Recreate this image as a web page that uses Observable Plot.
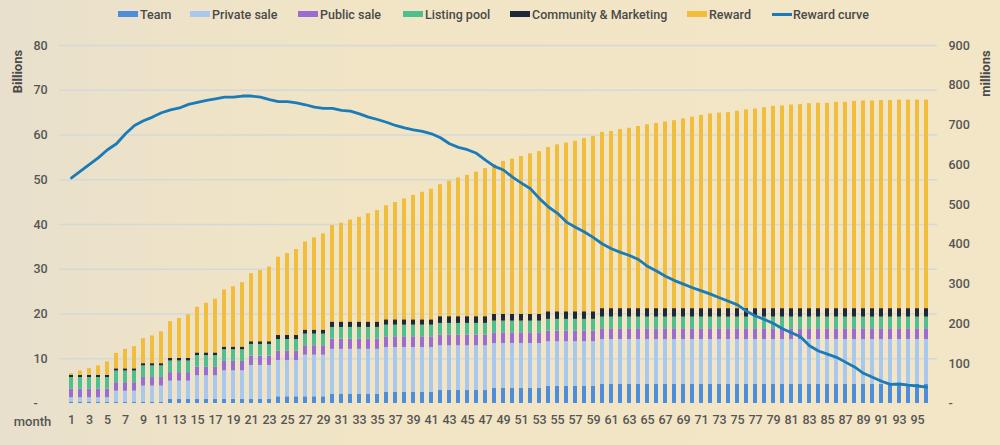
<!DOCTYPE html>
<html><head><meta charset="utf-8">
<script src="https://cdn.jsdelivr.net/npm/d3@7"></script>
<script src="https://cdn.jsdelivr.net/npm/@observablehq/plot@0.6"></script>
<style>
html,body{margin:0;padding:0;width:1000px;height:445px;overflow:hidden;font-family:Roboto,sans-serif;
background:linear-gradient(90deg,#e8e0cd 0%,#eee3c8 18%,#f1e5c5 40%,#f2e6c6 100%);}
#legend{position:relative;height:28px;width:1000px;}
.item{position:absolute;top:7px;height:14px;display:flex;align-items:center;font-size:12.5px;font-weight:500;color:#4a4a4a;white-space:nowrap;}
.sw{width:20px;height:6px;margin-right:2px;}
.ln{width:20px;height:3px;margin-right:1px;}
#chart svg{display:block;}
</style></head><body>
<div id="legend"></div><div id="chart"></div>
<script>
const seriesNames = ["Team","Private sale","Public sale","Listing pool","Community & Marketing","Reward"];
const seriesColors = ["#4c8ddc","#a9c8ee","#9a6dd3","#4fbf8e","#1f2838","#f2bd3a"];
const curveName = "Reward curve";
const curveColor = "#1b7bb8";

const monthTicks = [1,3,5,7,9,11,13,15,17,19,21,23,25,27,29,31,33,35,37,39,41,43,45,47,49,51,53,55,57,59,61,63,65,67,69,71,73,75,77,79,81,83,85,87,89,91,93,95];
const leftTicks = [0,10,20,30,40,50,60,70,80];
const rightTicks = [0,100,200,300,400,500,600,700,800,900];

const team = [
0.3,0.3,0.3,0.3,0.3,0.3,0.3,0.3,0.3,0.3,0.3,
0.9,0.9,0.9,0.9,0.9,0.9,0.9,0.9,0.9,0.9,0.9,0.9,
1.5,1.5,1.5,1.5,1.5,1.5,
2.1,2.1,2.1,2.1,2.1,2.1,
2.5,2.5,2.5,2.5,2.5,2.5,
2.9,2.9,2.9,2.9,2.9,2.9,
3.4,3.4,3.4,3.4,3.4,3.4,
3.8,3.8,3.8,3.8,3.8,3.8,
4.3,4.3,4.3,4.3,4.3,4.3,4.3,4.3,4.3,4.3,4.3,4.3,4.3,4.3,4.3,4.3,4.3,4.3,4.3,4.3,4.3,4.3,4.3,4.3,4.3,4.3,4.3,4.3,4.3,4.3,4.3,4.3,4.3,4.3,4.3,4.3,4.3];
const privateSale = [
1.0,1.0,1.0,1.0,1.0,
2.45,2.45,2.45,
3.6,3.6,3.6,
4.1,4.1,4.1,
5.3,5.3,5.3,
6.4,6.4,6.4,
7.6,7.6,7.6,
8.1,8.1,8.1,
9.3,9.3,9.3,
10,10,10,10,10,10,10,10,10,10,10,10,10,10,10,10,10,10,10,10,10,10,10,10,10,10,10,10,10,10,10,10,10,10,10,10,10,
10,10,10,10,10,10,10,10,10,10,10,10,10,10,10,10,10,10,10,10,10,10,10,10,10,10,10,10,10,10,10];
const publicSale = [
1.9,1.9,1.9,1.9,1.9,1.9,1.9,1.9,1.9,1.9,1.9,1.9,1.9,1.9,1.9,1.9,1.9,
2.1,2.1,2.1,2.1,2.1,2.1,2.1,2.1,2.1,2.1,2.1,2.1,
2.3,2.3,2.3,2.3,2.3,2.3,
2.4,2.4,2.4,2.4,2.4,2.4,2.4,2.4,2.4,2.4,2.4,2.4,2.4,2.4,2.4,2.4,2.4,2.4,2.4,2.4,2.4,2.4,2.4,2.4,2.4,2.4,
2.4,2.4,2.4,2.4,2.4,2.4,2.4,2.4,2.4,2.4,2.4,2.4,2.4,2.4,2.4,2.4,2.4,2.4,2.4,2.4,2.4,2.4,2.4,2.4,2.4,2.4,2.4,2.4,2.4,2.4,2.4,2.4,2.4,2.4,2.4];
const listingPool = [
2.6,2.6,2.6,2.6,2.6,2.6,2.6,2.6,2.6,2.6,2.6,2.6,2.6,2.6,2.6,2.6,2.6,2.6,2.6,2.6,2.6,2.6,2.6,2.6,
2.6,2.6,2.6,2.6,2.6,2.6,2.6,2.6,2.6,2.6,2.6,2.6,2.6,2.6,2.6,2.6,2.6,2.6,2.6,2.6,2.6,2.6,2.6,2.6,
2.6,2.6,2.6,2.6,2.6,2.6,2.6,2.6,2.6,2.6,2.6,2.6,2.6,2.6,2.6,2.6,2.6,2.6,2.6,2.6,2.6,2.6,2.6,2.6,
2.6,2.6,2.6,2.6,2.6,2.6,2.6,2.6,2.6,2.6,2.6,2.6,2.6,2.6,2.6,2.6,2.6,2.6,2.6,2.6,2.6,2.6,2.6,2.6];
const community = [
0.5,0.5,0.5,0.5,0.5,0.5,0.5,0.5,0.5,0.5,0.5,
0.6,0.6,0.6,0.6,0.6,0.6,0.6,0.6,0.6,0.6,0.6,0.6,
0.9,0.9,0.9,0.9,0.9,0.9,
1.2,1.2,1.2,1.2,1.2,1.2,1.2,1.2,1.2,1.2,1.2,1.2,
1.5,1.5,1.5,1.5,1.5,1.5,1.5,1.5,1.5,1.5,1.5,1.5,
1.7,1.7,1.7,1.7,1.7,1.7,
1.9,1.9,1.9,1.9,1.9,1.9,1.9,1.9,1.9,1.9,1.9,1.9,1.9,1.9,1.9,1.9,1.9,1.9,1.9,1.9,1.9,1.9,1.9,1.9,1.9,1.9,1.9,1.9,1.9,1.9,1.9,1.9,1.9,1.9,1.9,1.9,1.9];
const reward = [
0.4,0.95,1.5,2.1,3.0,3.45,4.35,4.95,5.6,6.2,
7.1,8.2,8.9,9.7,10.2,11.1,12.0,12.8,13.5,14.4,
15.2,15.9,16.7,17.5,18.3,19.2,19.7,20.6,21.5,21.6,
22.1,22.8,23.4,24.2,24.9,25.5,26.2,27.0,27.8,28.5,
29.2,29.5,30.3,31.0,31.6,32.3,33.1,33.5,34.2,34.7,
35.3,35.9,36.4,36.7,37.3,37.7,38.1,38.7,39.2,39.4,
39.6,40.0,40.3,40.7,41.1,41.4,41.7,42.0,42.4,42.8,
43.2,43.5,43.7,43.8,44.1,44.4,44.6,44.9,45.2,45.3,
45.5,45.6,45.8,45.9,45.9,46.1,46.1,46.3,46.4,46.4,
46.5,46.5,46.6,46.6,46.6,46.6];
const rewardCurve = [
567,584,601,618,638,653,678,699,711,720,
731,738,743,752,757,762,766,770,770,773,
773,770,764,759,759,756,751,745,742,742,
737,735,728,720,714,707,699,693,688,684,
678,668,653,644,638,629,612,596,587,569,
554,540,515,494,478,456,443,431,417,401,
389,380,372,362,345,333,320,309,300,291,
283,275,266,257,248,232,220,211,201,188,
178,168,145,132,124,116,104,92,76,66,
56,48,49,46,44,41];

const months = d3.range(1, reward.length + 1);
const seriesValues = [team, privateSale, publicSale, listingPool, community, reward];

const rows = [];
seriesNames.forEach((name, s) => {
  seriesValues[s].forEach((v, i) => rows.push({month: months[i], series: name, value: v}));
});
const RIGHT_MAX = 900, LEFT_MAX = 80;
const curveRows = rewardCurve.map((v, i) => ({month: months[i], y: v * LEFT_MAX / RIGHT_MAX}));

// legend
const legend = document.getElementById("legend");
const legendLeft = [118,190,298,403,510,687,772];
seriesNames.concat([curveName]).forEach((name, i) => {
  const it = document.createElement("div");
  it.className = "item";
  it.style.left = legendLeft[i] + "px";
  const sw = document.createElement("span");
  if (i < seriesNames.length) { sw.className = "sw"; sw.style.background = seriesColors[i]; }
  else { sw.className = "ln"; sw.style.background = curveColor; }
  it.appendChild(sw);
  const t = document.createElement("span");
  t.textContent = name;
  it.appendChild(t);
  legend.appendChild(it);
});

const chart = Plot.plot({
  width: 1000, height: 417,
  marginLeft: 59, marginRight: 63, marginTop: 17, marginBottom: 42,
  style: {background: "transparent", fontFamily: "Roboto, sans-serif", fontSize: "12.5px", fontWeight: 500, color: "#555"},
  x: {type: "band", domain: months, padding: 0.58},
  y: {domain: [0, LEFT_MAX]},
  color: {domain: seriesNames, range: seriesColors},
  marks: [
    Plot.ruleY(leftTicks.filter(d => d > 0), {stroke: "#d3d8d8", strokeWidth: 1.3}),
    Plot.barY(rows, {x: "month", y: "value", fill: "series", order: seriesNames}),
    Plot.lineY(curveRows, {x: "month", y: "y", stroke: curveColor, strokeWidth: 2.8, curve: "linear"}),
    Plot.axisY({ticks: leftTicks, tickSize: 0, tickPadding: 26, textAnchor: "start", label: null,
      tickFormat: d => d === 0 ? "-" : String(d), fill: "#555"}),
    Plot.axisY({anchor: "right", ticks: rightTicks.map(v => v * LEFT_MAX / RIGHT_MAX), tickSize: 0, tickPadding: 11, label: null,
      tickFormat: d => { const v = Math.round(d * RIGHT_MAX / LEFT_MAX); return v === 0 ? "-" : String(v); }, fill: "#555"}),
    Plot.axisX({ticks: monthTicks, tickSize: 0, tickPadding: 12, label: null, fill: "#555"}),
    Plot.text(["month"], {text: d => d, frameAnchor: "bottom-left", dx: -27, dy: 18, textAnchor: "middle", lineAnchor: "middle", fontSize: 13, fill: "#555"}),
    Plot.text(["Billions"], {text: d => d, frameAnchor: "top-left", dx: -42, dy: 26, rotate: -90, textAnchor: "middle", lineAnchor: "middle", fontSize: 13, fontWeight: 700, fill: "#4a4a4a"}),
    Plot.text(["millions"], {text: d => d, frameAnchor: "top-right", dx: 48, dy: 28, rotate: -90, textAnchor: "middle", lineAnchor: "middle", fontSize: 13, fontWeight: 700, fill: "#4a4a4a"})
  ]
});
document.getElementById("chart").appendChild(chart);
</script>
</body></html>
